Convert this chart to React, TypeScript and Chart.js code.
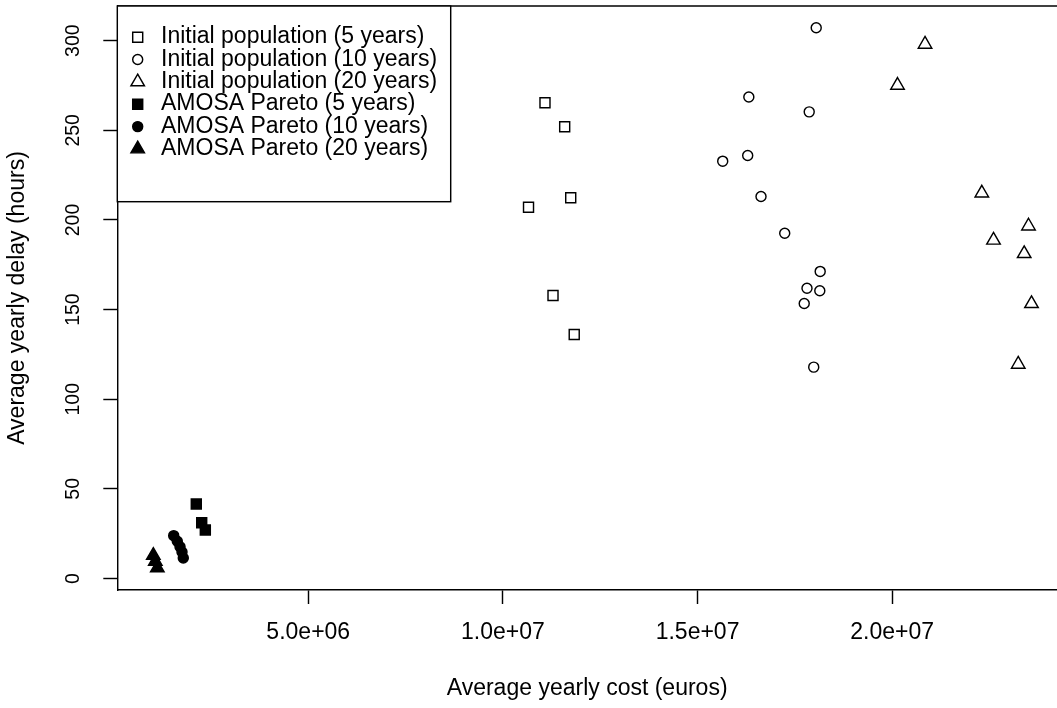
import React, { useEffect, useRef } from "react";
import { Chart, registerables } from "chart.js";

Chart.register(...registerables);

// ---- Data ----
const initial5X = [1.1081e7, 1.1587e7, 1.1742e7, 1.0658e7, 1.1287e7, 1.1832e7];
const initial5Y = [265.4, 252.0, 212.4, 207.1, 157.9, 136.1];

const initial10X = [1.6317e7, 1.6288e7, 1.5646e7, 1.663e7, 1.7239e7, 1.8048e7, 1.7868e7, 1.815e7, 1.7811e7, 1.814e7, 1.774e7, 1.7984e7];
const initial10Y = [268.6, 236.0, 232.8, 213.1, 192.6, 307.2, 260.3, 171.3, 161.9, 160.5, 153.4, 117.9];

const initial20X = [2.0843e7, 2.0136e7, 2.2302e7, 2.3501e7, 2.2602e7, 2.339e7, 2.3578e7, 2.3237e7];
const initial20Y = [298.0, 275.1, 215.0, 196.6, 188.7, 181.2, 153.3, 119.5];

const amosa5X = [2.124e6, 2.263e6, 2.356e6];
const amosa5Y = [41.6, 31.1, 27.1];

const amosa10X = [1.544e6, 1.636e6, 1.706e6, 1.757e6, 1.79e6];
const amosa10Y = [23.9, 20.8, 17.7, 14.8, 11.4];

const amosa20X = [1.02e6, 1.071e6, 1.123e6];
const amosa20Y = [12.9, 9.6, 5.9];

const seriesLabels = [
  "Initial population (5 years)",
  "Initial population (10 years)",
  "Initial population (20 years)",
  "AMOSA Pareto (5 years)",
  "AMOSA Pareto (10 years)",
  "AMOSA Pareto (20 years)",
];

const xTickValues = [5e6, 1e7, 1.5e7, 2e7];
const xTickLabels = ["5.0e+06", "1.0e+07", "1.5e+07", "2.0e+07"];
const yTickValues = [0, 50, 100, 150, 200, 250, 300];
const yTickLabels = ["0", "50", "100", "150", "200", "250", "300"];

const xTitle = "Average yearly cost (euros)";
const yTitle = "Average yearly delay (hours)";

const X_MIN = 9.5e4;
const X_MAX = 2.4233e7;
const Y_MIN = -6.41;
const Y_MAX = 319.35;

const FONT = "'Liberation Sans', Arial, Helvetica, sans-serif";
const LW = 1.44;

function zip(xs: number[], ys: number[]) {
  return xs.map((x, i) => ({ x, y: ys[i] }));
}

function drawSymbol(ctx: CanvasRenderingContext2D, style: string, x: number, y: number, r: number, filled: boolean) {
  ctx.beginPath();
  if (style === "rect") {
    const s = Math.SQRT1_2 * r;
    ctx.rect(x - s, y - s, 2 * s, 2 * s);
  } else if (style === "circle") {
    ctx.arc(x, y, r, 0, Math.PI * 2);
  } else if (style === "triangle") {
    let rad = 0;
    ctx.moveTo(x + Math.sin(rad) * r, y - Math.cos(rad) * r);
    rad += (2 * Math.PI) / 3;
    ctx.lineTo(x + Math.sin(rad) * r, y - Math.cos(rad) * r);
    rad += (2 * Math.PI) / 3;
    ctx.lineTo(x + Math.sin(rad) * r, y - Math.cos(rad) * r);
    ctx.closePath();
  }
  if (filled) {
    ctx.fillStyle = "#000";
    ctx.fill();
  }
  ctx.strokeStyle = "#000";
  ctx.lineWidth = LW;
  ctx.stroke();
}

const boxAndLegend = {
  id: "boxAndLegend",
  afterDraw(chart: any) {
    const { ctx, chartArea } = chart;
    ctx.save();
    // top border of the plot box
    ctx.beginPath();
    ctx.strokeStyle = "#000";
    ctx.lineWidth = LW;
    ctx.moveTo(chartArea.left, chartArea.top);
    ctx.lineTo(chartArea.right, chartArea.top);
    ctx.stroke();

    // legend box
    const bx = chartArea.left;
    const by = chartArea.top;
    const bw = 450.7 - bx;
    const bh = 201.7 - by;
    ctx.fillStyle = "#fff";
    ctx.fillRect(bx, by, bw, bh);
    ctx.strokeRect(bx, by, bw, bh);

    chart.data.datasets.forEach((ds: any, i: number) => {
      const cy = 37.2 + i * 22.35;
      drawSymbol(ctx, ds.pointStyle, 137.7, cy, ds.pointRadius, ds.pointBackgroundColor !== "rgba(0,0,0,0)");
      ctx.fillStyle = "#000";
      ctx.font = `23px ${FONT}`;
      ctx.textAlign = "left";
      ctx.textBaseline = "alphabetic";
      ctx.fillText(ds.label, 161, 43.3 + i * 22.35);
    });
    ctx.restore();
  },
};

function makeDataset(label: string, xs: number[], ys: number[], style: string, radius: number, filled: boolean) {
  return {
    label,
    data: zip(xs, ys),
    showLine: false,
    pointStyle: style,
    pointRadius: radius,
    pointHoverRadius: radius,
    pointBackgroundColor: filled ? "#000" : "rgba(0,0,0,0)",
    pointBorderColor: "#000",
    pointBorderWidth: LW,
    pointHoverBorderWidth: LW,
  };
}

export default function App() {
  const ref = useRef<HTMLCanvasElement>(null);

  useEffect(() => {
    if (!ref.current) return;
    const chart = new Chart(ref.current, {
      type: "scatter",
      data: {
        datasets: [
          makeDataset(seriesLabels[0], initial5X, initial5Y, "rect", 7.07, false),
          makeDataset(seriesLabels[1], initial10X, initial10Y, "circle", 5, false),
          makeDataset(seriesLabels[2], initial20X, initial20Y, "triangle", 7.8, false),
          makeDataset(seriesLabels[3], amosa5X, amosa5Y, "rect", 7.07, true),
          makeDataset(seriesLabels[4], amosa10X, amosa10Y, "circle", 5, true),
          makeDataset(seriesLabels[5], amosa20X, amosa20Y, "triangle", 7.8, true),
        ] as any,
      },
      options: {
        responsive: false,
        maintainAspectRatio: false,
        devicePixelRatio: 1,
        animation: false,
        layout: { autoPadding: false, padding: { top: 6, left: 0, right: 0, bottom: 0 } },
        plugins: {
          legend: { display: false },
          tooltip: { enabled: false },
        },
        scales: {
          x: {
            type: "linear",
            position: "bottom",
            min: X_MIN,
            max: X_MAX,
            afterBuildTicks: (s: any) => {
              s.ticks = xTickValues.map((v) => ({ value: v }));
            },
            afterFit: (s: any) => {
              s.height = 118;
              s.paddingLeft = 0;
              s.paddingRight = 0;
            },
            ticks: {
              autoSkip: false,
              maxRotation: 0,
              minRotation: 0,
              padding: 15,
              color: "#000",
              font: { family: FONT, size: 23 },
              callback: (v: any) => xTickLabels[xTickValues.indexOf(Number(v))],
            },
            grid: {
              display: true,
              drawOnChartArea: false,
              drawTicks: true,
              tickLength: 14,
              tickColor: "#000",
              tickWidth: LW,
            },
            border: { display: true, color: "#000", width: LW },
            title: {
              display: true,
              text: xTitle,
              color: "#000",
              font: { family: FONT, size: 23 },
              padding: { top: 0, bottom: 6 },
            },
          },
          y: {
            type: "linear",
            position: "left",
            min: Y_MIN,
            max: Y_MAX,
            afterBuildTicks: (s: any) => {
              s.ticks = yTickValues.map((v) => ({ value: v }));
            },
            afterFit: (s: any) => {
              s.width = 117.3;
              s.paddingTop = 0;
              s.paddingBottom = 0;
            },
            ticks: {
              autoSkip: false,
              minRotation: 90,
              maxRotation: 90,
              crossAlign: "center",
              padding: 13,
              color: "#000",
              font: { family: FONT, size: 19.5 },
              callback: (v: any) => yTickLabels[yTickValues.indexOf(Number(v))],
            },
            grid: {
              display: true,
              drawOnChartArea: false,
              drawTicks: true,
              tickLength: 14,
              tickColor: "#000",
              tickWidth: LW,
            },
            border: { display: true, color: "#000", width: LW },
            title: {
              display: true,
              text: yTitle,
              color: "#000",
              font: { family: FONT, size: 23 },
              padding: { top: 4.2, bottom: 0 },
            },
          },
        },
      } as any,
      plugins: [boxAndLegend],
    });
    return () => chart.destroy();
  }, []);

  return (
    <div style={{ position: "absolute", left: 0, top: 0, width: 1057, height: 708, background: "#fff", overflow: "hidden" }}>
      <canvas ref={ref} width={1057} height={708} style={{ display: "block", width: 1057, height: 708 }} />
    </div>
  );
}
